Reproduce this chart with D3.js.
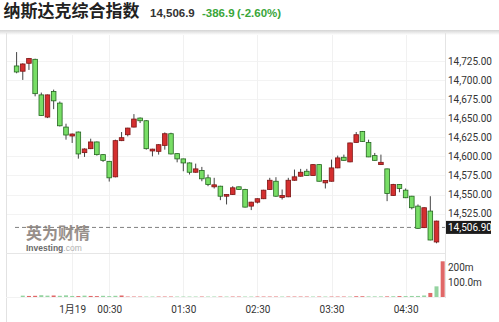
<!DOCTYPE html>
<html>
<head>
<meta charset="utf-8">
<script src="https://cdn.jsdelivr.net/npm/d3@7"></script>
<style>
  body { margin: 0; background: #fff; }
  svg { display: block; font-family: Roboto, "Noto Sans CJK SC", sans-serif; }
</style>
</head>
<body>
<svg id="chart" width="499" height="322"></svg>
<script>
// 5 minute candles, 23:15 -> 04:55 (Beijing time)
var candleOpen = [14718.5, 14711.6, 14722.0, 14727.2, 14680.6, 14651.5, 14684.9, 14669.8, 14638.4, 14626.7,
  14631.9, 14604.9, 14610.1, 14618.9, 14602.3, 14593.5, 14573.2, 14620.6, 14628.4, 14638.4,
  14650.2, 14646.7, 14607.1, 14606.6, 14614.4, 14629.7, 14603.6, 14596.7, 14591.4, 14579.2,
  14581.4, 14571.9, 14560.1, 14560.9, 14547.8, 14550.1, 14560.1, 14556.6, 14534.8, 14540.0,
  14544.5, 14556.6, 14567.4, 14546.1, 14547.0, 14568.7, 14574.0, 14580.5, 14574.9, 14589.2,
  14565.3, 14567.4, 14584.9, 14598.8, 14592.8, 14618.3, 14632.7, 14618.3, 14601.0, 14589.2,
  14583.6, 14548.8, 14563.1, 14555.7, 14547.8, 14534.8, 14506.6, 14528.3, 14487.8];
var candleHigh = [14736.7, 14722.0, 14729.0, 14728.0, 14683.6, 14681.0, 14687.5, 14671.9, 14642.8, 14630.0,
  14632.5, 14610.5, 14623.2, 14619.5, 14603.0, 14594.0, 14621.9, 14631.9, 14637.5, 14655.4,
  14651.0, 14647.5, 14610.0, 14616.0, 14631.4, 14631.0, 14604.0, 14597.0, 14592.0, 14590.5,
  14586.2, 14576.2, 14571.9, 14561.5, 14550.5, 14560.9, 14560.5, 14557.5, 14540.5, 14545.0,
  14556.2, 14571.9, 14572.7, 14556.6, 14571.9, 14582.7, 14583.6, 14583.6, 14590.0, 14589.8,
  14568.8, 14595.8, 14601.0, 14602.3, 14618.0, 14631.9, 14633.3, 14621.9, 14604.5, 14602.3,
  14584.0, 14564.0, 14563.6, 14557.9, 14548.3, 14537.0, 14533.3, 14547.8, 14515.7];
var candleLow = [14708.9, 14700.2, 14713.3, 14678.7, 14653.2, 14650.2, 14661.9, 14639.2, 14621.9, 14617.6,
  14597.0, 14599.3, 14609.5, 14601.0, 14592.8, 14567.0, 14572.5, 14620.0, 14626.2, 14638.0,
  14643.7, 14608.8, 14600.0, 14602.3, 14608.8, 14602.5, 14592.2, 14580.5, 14576.2, 14578.5,
  14567.4, 14560.9, 14557.9, 14542.6, 14537.0, 14549.5, 14556.0, 14533.0, 14529.6, 14538.3,
  14544.0, 14556.0, 14547.0, 14543.5, 14546.5, 14568.0, 14573.5, 14574.5, 14574.5, 14567.0,
  14557.9, 14567.0, 14584.5, 14594.3, 14592.3, 14618.0, 14619.0, 14599.0, 14594.3, 14588.7,
  14541.3, 14548.3, 14553.0, 14545.3, 14530.5, 14505.0, 14506.0, 14490.0, 14486.1];
var candleClose = [14710.6, 14721.1, 14728.3, 14682.2, 14653.6, 14680.6, 14672.8, 14640.1, 14628.0, 14629.3,
  14603.2, 14609.7, 14618.9, 14602.3, 14594.8, 14571.9, 14620.6, 14624.5, 14637.1, 14648.9,
  14646.7, 14610.1, 14609.5, 14615.3, 14629.7, 14603.2, 14596.7, 14591.4, 14579.2, 14583.6,
  14570.6, 14563.1, 14562.7, 14547.8, 14550.1, 14558.8, 14556.6, 14533.5, 14540.0, 14544.5,
  14555.7, 14568.7, 14547.8, 14548.8, 14568.7, 14573.2, 14579.2, 14574.9, 14589.2, 14567.4,
  14568.3, 14584.9, 14598.0, 14594.8, 14617.6, 14628.4, 14619.6, 14599.3, 14594.8, 14592.2,
  14551.4, 14563.1, 14557.9, 14545.8, 14532.7, 14505.7, 14532.7, 14490.4, 14515.2];
// volume, millions
var volumeM = [9, 7, 8, 12, 9, 10, 8, 11, 7, 6,
  9, 7, 6, 8, 6, 8, 10, 3, 3, 3,
  3, 3, 3, 3, 3, 3, 3, 3, 3, 3,
  3, 3, 3, 3, 3, 3, 3, 3, 3, 3,
  3, 3, 3, 3, 3, 3, 3, 3, 3, 3,
  3, 3, 3, 3, 5, 5, 4, 4, 4, 4,
  5, 6, 6, 7, 7, 10, 27, 71, 238];

var priceTicks = [14725, 14700, 14675, 14650, 14625, 14600, 14575, 14550, 14525];
var volumeTicks = [200, 100];
var volumeTickLabels = ["200m", "100.0m"];
var timeTicks = ["2022-01-19T00:00", "2022-01-19T00:30", "2022-01-19T01:30",
  "2022-01-19T02:30", "2022-01-19T03:30", "2022-01-19T04:30"];
var timeTickLabels = ["1月19", "00:30", "01:30", "02:30", "03:30", "04:30"];
var firstCandle = "2022-01-18T23:15";
var endCandles = "2022-01-19T05:00";
var lastPrice = 14506.9;
var titleName = "纳斯达克综合指数";
var titlePrice = "14,506.9";
var titleChange = "-386.9";
var titlePct = "(-2.60%)";

var parse = d3.timeParse("%Y-%m-%dT%H:%M");
var times = d3.timeMinute.every(5).range(parse(firstCandle), parse(endCandles));
var candles = times.map(function (t, i) {
  return { t: t, o: candleOpen[i], h: candleHigh[i], l: candleLow[i], c: candleClose[i], v: volumeM[i] };
});

var upFill = "#d42f2f", upStroke = "#7d1515";
var downFill = "#78de66", downStroke = "#24661f";

var svg = d3.select("#chart");

var x = d3.scaleTime()
  .domain([times[0], times[times.length - 1]])
  .range([16.6, 436.5]);
var y = d3.scaleLinear().domain([14725, 14525]).range([61, 213.6]);
var vy = d3.scaleLinear().domain([0, 200]).range([297, 267]);
var step = x(times[1]) - x(times[0]);

// panel edge shadow
var grad = svg.append("defs").append("linearGradient")
  .attr("id", "edge").attr("x1", 0).attr("y1", 0).attr("x2", 0).attr("y2", 1);
grad.append("stop").attr("offset", "0%").attr("stop-color", "#d4d4d4");
grad.append("stop").attr("offset", "100%").attr("stop-color", "#ffffff");
svg.append("rect").attr("x", 0).attr("y", 30).attr("width", 499).attr("height", 5).attr("fill", "url(#edge)");

// title
svg.append("text").attr("x", 3.5).attr("y", 17).text(titleName)
  .style("font-family", "'Liberation Sans', 'Noto Sans CJK SC', sans-serif").style("font-weight", "bold")
  .style("font-size", "17px").attr("fill", "#222");
svg.append("text").attr("x", 150).attr("y", 16.7).text(titlePrice)
  .style("font-family", "'Liberation Sans', Arial, sans-serif").style("font-weight", "bold")
  .style("font-size", "11.5px").attr("fill", "#333");
svg.append("text").attr("x", 202).attr("y", 16.7).text(titleChange)
  .style("font-family", "'Liberation Sans', Arial, sans-serif").style("font-weight", "bold")
  .style("font-size", "11.5px").attr("fill", "#3aa63a");
svg.append("text").attr("x", 237).attr("y", 16.7).text(titlePct)
  .style("font-family", "'Liberation Sans', Arial, sans-serif").style("font-weight", "bold")
  .style("font-size", "11.5px").attr("fill", "#3aa63a");

// grid
svg.append("g").selectAll("line").data(priceTicks).enter().append("line")
  .attr("x1", 6).attr("x2", 445)
  .attr("y1", function (d) { return Math.round(y(d)) + 0.5; })
  .attr("y2", function (d) { return Math.round(y(d)) + 0.5; })
  .attr("stroke", "#f3f3f3");
svg.append("g").selectAll("line").data(timeTicks).enter().append("line")
  .attr("x1", function (d) { return Math.round(x(parse(d))) + 0.5; })
  .attr("x2", function (d) { return Math.round(x(parse(d))) + 0.5; })
  .attr("y1", 35).attr("y2", 298)
  .attr("stroke", "#f1f1f1");

// frame
svg.append("line").attr("x1", 6.5).attr("x2", 6.5).attr("y1", 33).attr("y2", 322).attr("stroke", "#e2e2e2");
svg.append("line").attr("x1", 445.5).attr("x2", 445.5).attr("y1", 33).attr("y2", 298).attr("stroke", "#e4e4e4");
svg.append("line").attr("x1", 6).attr("x2", 445).attr("y1", 253.5).attr("y2", 253.5).attr("stroke", "#e6e6e6");
svg.append("line").attr("x1", 6).attr("x2", 445).attr("y1", 297.5).attr("y2", 297.5).attr("stroke", "#f2f2f2");

// watermark
svg.append("text").attr("x", 26).attr("y", 239).text("英为财情")
  .style("font-family", "'Liberation Sans', 'Noto Sans CJK SC', sans-serif").style("font-weight", "bold")
  .style("font-size", "16px").attr("fill", "#857c76").attr("opacity", 0.85);
var wm = svg.append("text").attr("x", 26).attr("y", 251)
  .style("font-family", "'Liberation Sans', Arial, sans-serif").style("font-size", "8.5px");
wm.append("tspan").text("Investing").attr("fill", "#6a6a6a").style("font-weight", "bold");
wm.append("tspan").text(".com").attr("fill", "#b0b0b0");

// last price dashed line
svg.append("line").attr("x1", 15).attr("x2", 445)
  .attr("y1", y(lastPrice)).attr("y2", y(lastPrice))
  .attr("stroke", "#808080").attr("stroke-dasharray", "4,3");

// volume bars
svg.append("g").selectAll("rect").data(candles).enter().append("rect")
  .attr("x", function (d) { return x(d.t) + step - 2; })
  .attr("width", 4)
  .attr("y", function (d) { return vy(d.v); })
  .attr("height", function (d) { return vy(0) - vy(d.v); })
  .attr("fill", function (d) { return d.c >= d.o ? "#e06767" : "#94d3a0"; });

// candles
var cg = svg.append("g").selectAll("g").data(candles).enter().append("g");
cg.append("line")
  .attr("x1", function (d) { return x(d.t); })
  .attr("x2", function (d) { return x(d.t); })
  .attr("y1", function (d) { return y(d.h); })
  .attr("y2", function (d) { return y(d.l); })
  .attr("stroke", "#444").attr("stroke-width", 1);
cg.append("rect")
  .attr("x", function (d) { return x(d.t) - 2.3; })
  .attr("width", 4.6)
  .attr("y", function (d) { return y(Math.max(d.o, d.c)); })
  .attr("height", function (d) { return Math.max(1.2, Math.abs(y(d.o) - y(d.c))); })
  .attr("fill", function (d) { return d.c >= d.o ? upFill : downFill; })
  .attr("stroke", function (d) { return d.c >= d.o ? upStroke : downStroke; })
  .attr("stroke-width", 0.8);

// price axis
var yAxis = d3.axisRight(y).tickValues(priceTicks).tickSize(0).tickPadding(3)
  .tickFormat(d3.format(",.2f"));
svg.append("g").attr("transform", "translate(445,0)").call(yAxis)
  .call(function (g) { g.select(".domain").remove(); })
  .selectAll("text").style("font-size", "10px").attr("fill", "#333")
  .style("font-family", "Roboto, sans-serif");

// last price box
svg.append("rect").attr("x", 446).attr("y", y(lastPrice) - 6.5)
  .attr("width", 45).attr("height", 13).attr("fill", "#1c1c1c");
svg.append("text").attr("x", 448).attr("y", y(lastPrice)).attr("dy", "0.35em")
  .text(d3.format(",.2f")(lastPrice))
  .style("font-size", "10px").style("font-family", "Roboto, sans-serif").attr("fill", "#fff");

// volume axis
svg.append("g").selectAll("text").data(volumeTicks).enter().append("text")
  .attr("x", 448).attr("y", function (d) { return vy(d); }).attr("dy", "0.35em")
  .text(function (d, i) { return volumeTickLabels[i]; })
  .style("font-size", "10px").style("font-family", "Roboto, sans-serif").attr("fill", "#333");

// time axis
var xAxis = d3.axisBottom(x).tickValues(timeTicks.map(parse)).tickSize(0).tickPadding(5.5)
  .tickFormat(function (d, i) { return timeTickLabels[i]; });
svg.append("g").attr("transform", "translate(0,300)").call(xAxis)
  .call(function (g) { g.select(".domain").remove(); })
  .selectAll("text").style("font-size", "10px").attr("fill", "#333")
  .style("font-family", "Roboto, 'Noto Sans CJK SC', sans-serif");
</script>
</body>
</html>
